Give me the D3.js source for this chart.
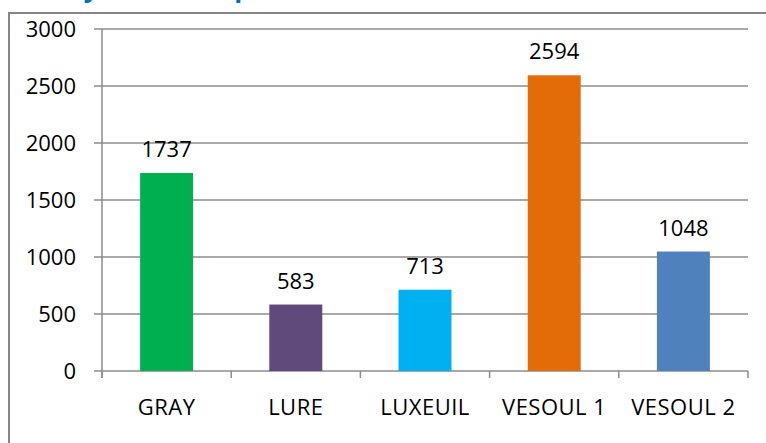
<!DOCTYPE html>
<html>
<head>
<meta charset="utf-8">
<script src="https://cdn.jsdelivr.net/npm/d3@7"></script>
<style>
  body { margin: 0; background: #fff; }
  svg text { font-family: "Open Sans", sans-serif; fill: #000; }
</style>
</head>
<body>
<div id="chart"></div>
<script>
// data
var sites = ["GRAY", "LURE", "LUXEUIL", "VESOUL 1", "VESOUL 2"];
var values = [1737, 583, 713, 2594, 1048];
var colors = ["#00B050", "#604A7B", "#00B0F0", "#E36C09", "#4F81BD"];
var yTicks = [0, 500, 1000, 1500, 2000, 2500, 3000];

var W = 766, H = 443;
var margin = {top: 29, right: 18, bottom: 72, left: 102},
    width = W - margin.left - margin.right,
    height = H - margin.top - margin.bottom;

var svg = d3.select("#chart").append("svg")
    .attr("width", W)
    .attr("height", H);

// title, mostly cut off at the top of the picture (only descenders show)
svg.append("text")
    .attr("x", 69).attr("y", -3)
    .style("font-size", "26px").style("font-weight", "bold")
    .style("fill", "#0070C0")
    .text("Lycées du département");

// outer frame (left and top sides are visible)
svg.append("path")
    .attr("d", "M9,443 V13 H766")
    .attr("fill", "none")
    .attr("stroke", "#868686")
    .attr("stroke-width", 2);

var g = svg.append("g")
    .attr("transform", "translate(" + margin.left + "," + margin.top + ")");

var x = d3.scaleBand().domain(sites).range([0, width]);
var y = d3.scaleLinear().domain([0, 3000]).range([height, 0]);

// gridlines + y ticks
g.selectAll(".grid").data(yTicks).enter().append("line")
    .attr("x1", -8).attr("x2", width)
    .attr("y1", function(d) { return y(d); })
    .attr("y2", function(d) { return y(d); })
    .attr("stroke", "#8c8c8c").attr("stroke-width", 1.5);

g.selectAll(".ylab").data(yTicks).enter().append("text")
    .attr("x", -26)
    .attr("y", function(d) { return y(d); })
    .attr("dy", "0.36em")
    .attr("text-anchor", "end")
    .style("font-size", "22px")
    .text(function(d) { return d; });

// y axis line
g.append("line")
    .attr("x1", 0).attr("x2", 0)
    .attr("y1", 0).attr("y2", height + 7)
    .attr("stroke", "#8c8c8c").attr("stroke-width", 1.5);

// x axis ticks at category boundaries
var bounds = sites.map(function(d) { return x(d); }).concat([width]);
g.selectAll(".xtick").data(bounds).enter().append("line")
    .attr("x1", function(d) { return d; })
    .attr("x2", function(d) { return d; })
    .attr("y1", height).attr("y2", height + 7)
    .attr("stroke", "#8c8c8c").attr("stroke-width", 1.5);

// bars
var barW = x.bandwidth() * 0.41;
g.selectAll(".bar").data(values).enter().append("rect")
    .attr("x", function(d, i) { return x(sites[i]) + x.bandwidth() / 2 - barW / 2; })
    .attr("y", function(d) { return y(d); })
    .attr("width", barW)
    .attr("height", function(d) { return height - y(d); })
    .attr("fill", function(d, i) { return colors[i]; });

// value labels
g.selectAll(".val").data(values).enter().append("text")
    .attr("x", function(d, i) { return x(sites[i]) + x.bandwidth() / 2; })
    .attr("y", function(d) { return y(d) - 16; })
    .attr("text-anchor", "middle")
    .style("font-size", "22px")
    .text(function(d) { return d; });

// category labels
g.selectAll(".xlab").data(sites).enter().append("text")
    .attr("x", function(d) { return x(d) + x.bandwidth() / 2; })
    .attr("y", height + 44)
    .attr("text-anchor", "middle")
    .style("font-size", "22px")
    .style("letter-spacing", "0.5px")
    .text(function(d) { return d; });
</script>
</body>
</html>
